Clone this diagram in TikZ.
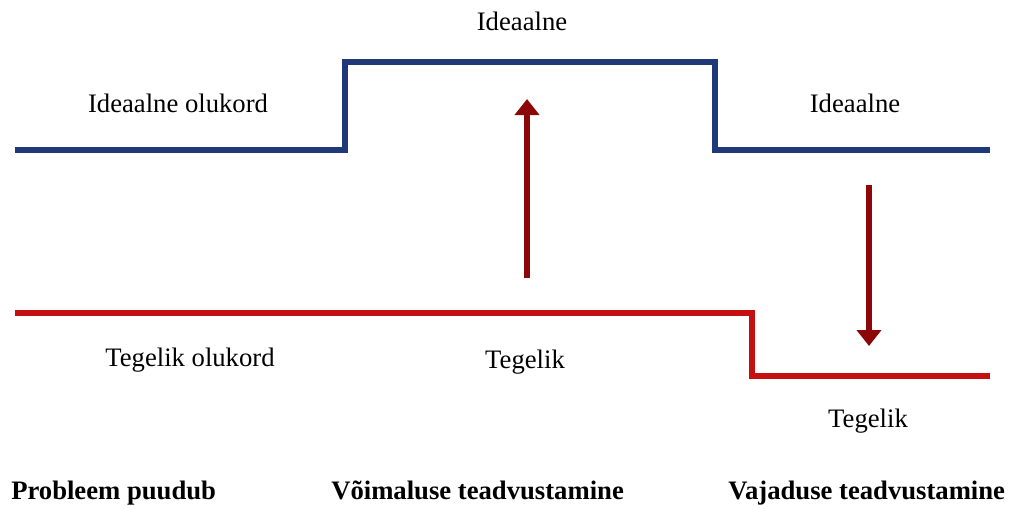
\documentclass[tikz,border=0pt]{standalone}
\usepackage{fontspec}
\setmainfont{Liberation Serif}
\usetikzlibrary{arrows.meta}

\definecolor{idealblue}{RGB}{31,56,120}
\definecolor{realred}{RGB}{196,16,16}
\definecolor{shiftred}{RGB}{140,8,8}

\tikzset{
  lbl/.style={inner sep=0.75pt, font=\fontsize{20}{24}\selectfont},
  stage/.style={inner sep=0.75pt, font=\fontsize{20}{24}\selectfont\bfseries, anchor=base west},
  ideal/.style={draw=idealblue, line width=3.8pt},
  real/.style={draw=realred, line width=3.8pt},
  gaparrow/.style={draw=shiftred, line width=5pt, -{Triangle[width=18pt,length=12pt]}}
}

\begin{document}
\begin{tikzpicture}[x=0.75pt,y=0.75pt,yscale=-1,xscale=1]
  \useasboundingbox (0,0) rectangle (1016,508);

  % ideal line
  \coordinate (i1) at (15,150);
  \coordinate (i2) at (345,150);
  \coordinate (i3) at (345,62);
  \coordinate (i4) at (715,62);
  \coordinate (i5) at (715,150);
  \coordinate (i6) at (990,150);
  \draw [ideal] (i1) -- (i2) -- (i3) -- (i4) -- (i5) -- (i6);

  % real line
  \coordinate (r1) at (15,313);
  \coordinate (r2) at (752,313);
  \coordinate (r3) at (752,376);
  \coordinate (r4) at (990,376);
  \draw [real] (r1) -- (r2) -- (r3) -- (r4);

  % gap arrows
  \coordinate (upfrom) at (527,278);
  \coordinate (upto) at (527,99);
  \draw [gaparrow] (upfrom) -- (upto);
  \coordinate (downfrom) at (869,185);
  \coordinate (downto) at (869,346);
  \draw [gaparrow] (downfrom) -- (downto);

  % Text Node
  \node (idealleft) at (178,103) [lbl] {Ideaalne olukord};
  % Text Node
  \node (idealmid) at (522,21) [lbl] {Ideaalne};
  % Text Node
  \node (idealright) at (855,103) [lbl] {Ideaalne};
  % Text Node
  \node (realleft) at (190,360) [lbl] {Tegelik olukord};
  % Text Node
  \node (realmid) at (525,362) [lbl] {Tegelik};
  % Text Node
  \node (realright) at (868,421) [lbl] {Tegelik};
  % Text Node
  \node (stageone) at (10,499) [stage] {Probleem puudub};
  % Text Node
  \node (stagetwo) at (330,499) [stage] {Võimaluse teadvustamine};
  % Text Node
  \node (stagethree) at (727,499) [stage] {Vajaduse teadvustamine};

\end{tikzpicture}
\end{document}
